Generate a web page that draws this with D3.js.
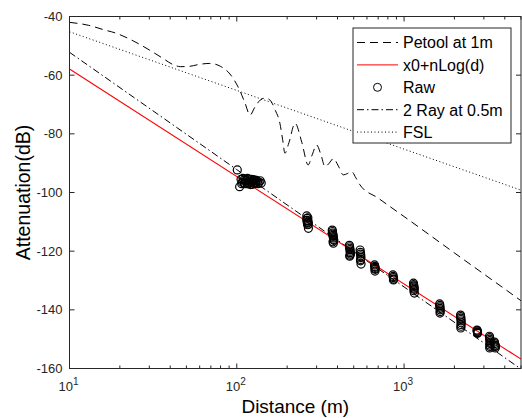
<!DOCTYPE html>
<html><head><meta charset="utf-8">
<script src="https://cdn.jsdelivr.net/npm/d3@7"></script>
<style>body{margin:0;background:#fff}svg{display:block}text{font-family:"Liberation Sans",Arial,sans-serif}</style>
</head><body><svg id="c" width="522" height="418"></svg>
<script>
// ---- data ----
const petoolDistance = [10,13,16,19,24,30,36,42,46,52,60,69,80,91,104,112,120,128,138,148,158,170,181,188,194,205,223,245,267,283,300,318,337,357,378,405,433,460,486,515,545,700,824,1000,2000,3000,4000,5000];
const petoolAtten = [-42.0,-43.0,-44.5,-45.7,-48.3,-51.4,-54.2,-56.5,-57.1,-57.0,-56.3,-56.0,-57.0,-59.6,-65.1,-69.5,-73.6,-71.0,-68.5,-67.8,-68.5,-72.0,-76.4,-82.0,-86.6,-83.0,-76.4,-83.0,-90.6,-87.0,-83.8,-87.0,-91.2,-90.0,-88.4,-91.0,-94.0,-93.5,-92.9,-95.0,-97.4,-101.9,-104.8,-108.2,-120.6,-127.8,-132.9,-136.9];
const fitDistance = [10, 5000];
const fitAtten = [-57.9, -156.8];
const twoRayDistance = [10, 100, 1000, 5000];
const twoRayAtten = [-52.2, -92.2, -132.2, -160.2];
const fslDistance = [10, 5000];
const fslAtten = [-45.2, -99.2];
const rawDistance = [100.7,104,106,107,108,109,110,111,112,113,114,115,116,117,118,119,120,121,122,123,124,125,126,127,128,129,130,131,133,134,136,138,140,
  262,262,263,264,264,265,266,266,267,268,268,
  372,373,374,375,376,377,378,379,380,376,378,
  471,472,474,475,476,477,478,475,473,
  546,548,550,551,552,550,549,553,
  666,668,670,671,672,670,
  858,860,863,866,864,
  1138,1140,1143,1146,1148,1150,1144,1152,
  1632,1635,1638,1640,1642,1645,1640,
  2175,2180,2185,2188,2192,2195,2188,2190,2184,
  2730,2735,2742,2748,2750,
  3240,3250,3255,3260,3265,3270,3255,3265,3250,3470,3480,3490,3500,3510,3520];
const rawAtten = [-92.3,-98.0,-95.5,-97.0,-96.5,-95.2,-95.8,-96.9,-97.0,-95.5,-96.0,-96.6,-95.2,-97.1,-96.8,-95.6,-96.3,-97.3,-95.5,-96.4,-97.2,-95.6,-96.0,-96.9,-95.8,-96.5,-96.8,-95.9,-96.2,-97.0,-96.5,-96.0,-96.8,
  -108.0,-109.5,-108.8,-109.5,-110.4,-111.0,-110.2,-108.6,-109.8,-110.8,-112.2,
  -112.8,-113.3,-113.8,-114.2,-114.6,-115.0,-115.5,-116.0,-116.3,-116.8,-117.3,
  -118.0,-118.5,-119.0,-119.5,-120.0,-120.5,-121.0,-121.4,-121.7,
  -119.6,-120.4,-121.0,-121.6,-122.2,-122.8,-123.3,-124.4,
  -124.7,-125.2,-125.5,-125.9,-126.2,-126.8,
  -128.1,-128.6,-129.0,-129.5,-129.8,
  -130.9,-131.4,-131.8,-132.2,-132.6,-133.0,-133.5,-134.3,
  -138.0,-138.5,-139.0,-139.5,-140.0,-140.6,-141.1,
  -141.8,-142.3,-142.8,-143.3,-143.8,-144.4,-145.0,-145.6,-146.2,
  -146.9,-147.2,-147.5,-147.8,-148.0,
  -149.0,-149.5,-150.0,-150.5,-151.0,-151.5,-152.0,-152.5,-153.0,-151.0,-151.5,-152.0,-152.5,-153.0,-152.3];
const yTicks = [-160,-140,-120,-100,-80,-60,-40];
const xMajorTicks = [10, 100, 1000];
const xMajorExp = ["1", "2", "3"];
const legendLabels = ["Petool at 1m", "x0+nLog(d)", "Raw", "2 Ray at 0.5m", "FSL"];

// ---- layout ----
const svg = d3.select("#c");
const L = 69.5, R = 521, T = 16.5, B = 368.5;
const x = d3.scaleLog().domain([10, 5000]).range([L, R]);
const y = d3.scaleLinear().domain([-160, -40]).range([B, T]);
const axisColor = "#262626";

svg.append("defs").append("clipPath").attr("id", "clip")
  .append("rect").attr("x", L).attr("y", T).attr("width", R - L).attr("height", B - T);

const g = svg.append("g").attr("clip-path", "url(#clip)");
const line = d3.line().x(d => x(d[0])).y(d => y(d[1]));
const zip = (a, b) => a.map((v, i) => [v, b[i]]);

g.append("path").datum(zip(fslDistance, fslAtten)).attr("d", line)
  .attr("fill", "none").attr("stroke", "#000").attr("stroke-width", 1).attr("stroke-dasharray", "1,2.5");
g.append("path").datum(zip(petoolDistance, petoolAtten)).attr("d", d3.line().x(d => x(d[0])).y(d => y(d[1])).curve(d3.curveMonotoneX))
  .attr("fill", "none").attr("stroke", "#000").attr("stroke-width", 1).attr("stroke-dasharray", "8,5");
g.append("path").datum(zip(twoRayDistance, twoRayAtten)).attr("d", line)
  .attr("fill", "none").attr("stroke", "#000").attr("stroke-width", 1).attr("stroke-dasharray", "7,3,1.5,3");
g.append("path").datum(zip(fitDistance, fitAtten)).attr("d", line)
  .attr("fill", "none").attr("stroke", "#ff0000").attr("stroke-width", 1.1);
g.selectAll("circle.raw").data(zip(rawDistance, rawAtten)).enter().append("circle")
  .attr("class", "raw").attr("cx", d => x(d[0])).attr("cy", d => y(d[1])).attr("r", 4)
  .attr("fill", "none").attr("stroke", "#000").attr("stroke-width", 1.2);

// ---- axes ----
const ax = svg.append("g").attr("fill", "none").attr("stroke", axisColor).attr("stroke-width", 1);
ax.append("rect").attr("x", L).attr("y", T).attr("width", R - L).attr("height", B - T);

const minor = [];
[10, 100, 1000].forEach(dec => { for (let k = 2; k <= 9; k++) { const v = dec * k; if (v <= 5000) minor.push(v); } });
xMajorTicks.forEach(v => {
  ax.append("line").attr("x1", x(v)).attr("x2", x(v)).attr("y1", B).attr("y2", B - 5);
  ax.append("line").attr("x1", x(v)).attr("x2", x(v)).attr("y1", T).attr("y2", T + 5);
});
minor.forEach(v => {
  ax.append("line").attr("x1", x(v)).attr("x2", x(v)).attr("y1", B).attr("y2", B - 3);
  ax.append("line").attr("x1", x(v)).attr("x2", x(v)).attr("y1", T).attr("y2", T + 3);
});
yTicks.forEach(v => {
  ax.append("line").attr("x1", L).attr("x2", L + 5).attr("y1", y(v)).attr("y2", y(v));
  ax.append("line").attr("x1", R).attr("x2", R - 5).attr("y1", y(v)).attr("y2", y(v));
});

svg.selectAll("text.yt").data(yTicks).enter().append("text").attr("class", "yt")
  .attr("x", L - 7).attr("y", d => y(d) + 4.5).attr("text-anchor", "end")
  .attr("font-size", 13).attr("fill", axisColor).text(d => d);

xMajorTicks.forEach((v, i) => {
  const t = svg.append("text").attr("x", x(v) - 1).attr("y", 391).attr("text-anchor", "middle")
    .attr("font-size", 13).attr("fill", axisColor);
  t.append("tspan").text("10");
  t.append("tspan").attr("dy", -6).attr("font-size", 10).text(xMajorExp[i]);
});

svg.append("text").attr("x", (L + R) / 2).attr("y", 413).attr("text-anchor", "middle")
  .attr("font-size", 19).attr("fill", "#000").text("Distance (m)");
svg.append("text").attr("transform", `translate(29.5,${(T + B) / 2}) rotate(-90)`).attr("text-anchor", "middle")
  .attr("font-size", 19.5).attr("fill", "#000").text("Attenuation(dB)");

// ---- legend ----
const lg = svg.append("g");
lg.append("rect").attr("x", 353).attr("y", 28).attr("width", 158).attr("height", 115)
  .attr("fill", "#fff").attr("stroke", axisColor).attr("stroke-width", 1);
const styles = [
  {stroke: "#000", dash: "8,5"},
  {stroke: "#ff0000", dash: null},
  {marker: true},
  {stroke: "#000", dash: "7,3,1.5,3"},
  {stroke: "#000", dash: "1,2.5"}
];
legendLabels.forEach((lab, i) => {
  const cy = 42.5 + i * 22.4;
  const s = styles[i];
  if (s.marker) {
    lg.append("circle").attr("cx", 377.5).attr("cy", cy).attr("r", 4).attr("fill", "none").attr("stroke", "#000");
  } else {
    const ln = lg.append("line").attr("x1", 357).attr("x2", 398).attr("y1", cy).attr("y2", cy)
      .attr("stroke", s.stroke).attr("stroke-width", 1);
    if (s.dash) ln.attr("stroke-dasharray", s.dash);
  }
  lg.append("text").attr("x", 403).attr("y", cy + 5.8).attr("font-size", 16).attr("fill", "#000").text(lab);
});
</script></body></html>
